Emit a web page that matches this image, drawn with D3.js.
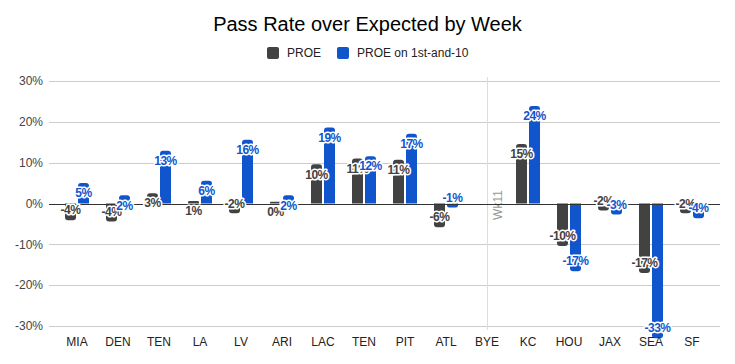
<!DOCTYPE html>
<html>
<head>
<meta charset="utf-8">
<script src="https://cdn.jsdelivr.net/npm/d3@7"></script>
<style>
  html, body { margin: 0; padding: 0; background: #fff; }
  svg { display: block; font-family: Arial, "Liberation Sans", sans-serif; }
</style>
</head>
<body>
<svg id="chart" width="735" height="364"></svg>
<script>
const categories = ["MIA", "DEN", "TEN", "LA", "LV", "ARI", "LAC", "TEN", "PIT", "ATL", "BYE", "KC", "HOU", "JAX", "SEA", "SF"];
const proe = [-4.1, -4.4, 2.5, 0.6, -2.4, 0.4, 9.6, 11.0, 10.7, -5.8, null, 14.6, -10.4, -1.7, -17.0, -2.4];
const proeFirst10 = [5.0, 2.0, 12.9, 5.6, 15.6, 2.0, 18.6, 11.6, 17.1, -1.0, null, 23.9, -16.6, -2.7, -33.0, -3.6];
const seriesNames = ["PROE", "PROE on 1st-and-10"];
const seriesColors = ["#424242", "#1155cc"];
const yTicks = [-30, -20, -10, 0, 10, 20, 30];
const annotationCategory = "BYE";
const annotationText = "Wk11";
const title = "Pass Rate over Expected by Week";

const svg = d3.select("#chart");

const x = d3.scaleBand().domain(d3.range(categories.length)).range([56.5, 712.5]).padding(0);
const xInner = d3.scaleBand().domain([0, 1]).range([8.5, 32.5]).paddingInner(2 - 24 / 13).paddingOuter(0);
const y = d3.scaleLinear().domain([-30, 30]).range([326, 81]);

// title
svg.append("text").attr("x", 367.5).attr("y", 31).attr("text-anchor", "middle")
  .attr("font-size", 20).attr("fill", "#000").text(title);

// legend
const legendX = [267, 337];
seriesNames.forEach((n, i) => {
  svg.append("rect").attr("x", legendX[i]).attr("y", 47).attr("width", 12).attr("height", 12)
    .attr("rx", 2).attr("fill", seriesColors[i]);
  svg.append("text").attr("x", legendX[i] + 20).attr("y", 57).attr("font-size", 12)
    .attr("fill", "#222").text(n);
});

// grid
svg.append("g").selectAll("line").data(yTicks.filter(d => d !== 0)).join("line")
  .attr("x1", 49).attr("x2", 720)
  .attr("y1", d => Math.round(y(d)) + 0.5).attr("y2", d => Math.round(y(d)) + 0.5)
  .attr("stroke", "#cccccc").attr("stroke-width", 1);

// y tick labels
svg.append("g").selectAll("text").data(yTicks).join("text")
  .attr("x", 43).attr("y", d => y(d)).attr("dy", "0.35em").attr("text-anchor", "end")
  .attr("font-size", 12).attr("fill", "#444").text(d => d + "%");

// annotation line
const ax = x(categories.indexOf(annotationCategory)) + x.bandwidth() / 2;
svg.append("line").attr("x1", Math.round(ax) + 0.5).attr("x2", Math.round(ax) + 0.5)
  .attr("y1", 77).attr("y2", 330).attr("stroke", "#dddddd").attr("stroke-width", 1);
svg.append("text").attr("transform", `translate(${ax + 15},205) rotate(-90)`)
  .attr("text-anchor", "middle").attr("font-size", 12).attr("fill", "#999").text(annotationText);

// bars
function barPath(x0, w, v) {
  const y0 = y(0), y1 = y(v);
  const r = Math.min(3, Math.abs(y1 - y0) / 2, w / 2);
  if (v >= 0) {
    return `M${x0},${y0}V${y1 + r}Q${x0},${y1} ${x0 + r},${y1}H${x0 + w - r}Q${x0 + w},${y1} ${x0 + w},${y1 + r}V${y0}Z`;
  } else {
    return `M${x0},${y0}V${y1 - r}Q${x0},${y1} ${x0 + r},${y1}H${x0 + w - r}Q${x0 + w},${y1} ${x0 + w},${y1 - r}V${y0}Z`;
  }
}
const series = [proe, proeFirst10];
const barsG = svg.append("g");
series.forEach((vals, s) => {
  barsG.selectAll(null).data(vals.map((v, i) => ({ v, i })).filter(d => d.v !== null)).join("path")
    .attr("d", d => barPath(x(d.i) + xInner(s), xInner.bandwidth(), d.v))
    .attr("fill", seriesColors[s]);
});

// zero line
svg.append("line").attr("x1", 49).attr("x2", 720).attr("y1", Math.round(y(0)) + 0.5).attr("y2", Math.round(y(0)) + 0.5)
  .attr("stroke", "#333").attr("stroke-width", 1);

// data labels
const labelsG = svg.append("g");
series.forEach((vals, s) => {
  labelsG.selectAll(null).data(vals.map((v, i) => ({ v, i })).filter(d => d.v !== null)).join("text")
    .attr("x", d => x(d.i) + xInner(s) + xInner.bandwidth() / 2)
    .attr("y", d => y(d.v) + (d.v >= 0 ? 10 : -10))
    .attr("dy", "0.35em").attr("text-anchor", "middle")
    .attr("font-size", 12).attr("font-weight", "bold")
    .attr("fill", seriesColors[s])
    .attr("stroke", "#fff").attr("stroke-width", 3).attr("stroke-linejoin", "round")
    .attr("paint-order", "stroke")
    .attr("letter-spacing", -0.5)
    .text(d => Math.round(d.v) + "%");
});

// x labels
svg.append("g").selectAll("text").data(categories).join("text")
  .attr("x", (d, i) => x(i) + x.bandwidth() / 2).attr("y", 346).attr("text-anchor", "middle")
  .attr("font-size", 12).attr("fill", "#222").text(d => d);
</script>
</body>
</html>
